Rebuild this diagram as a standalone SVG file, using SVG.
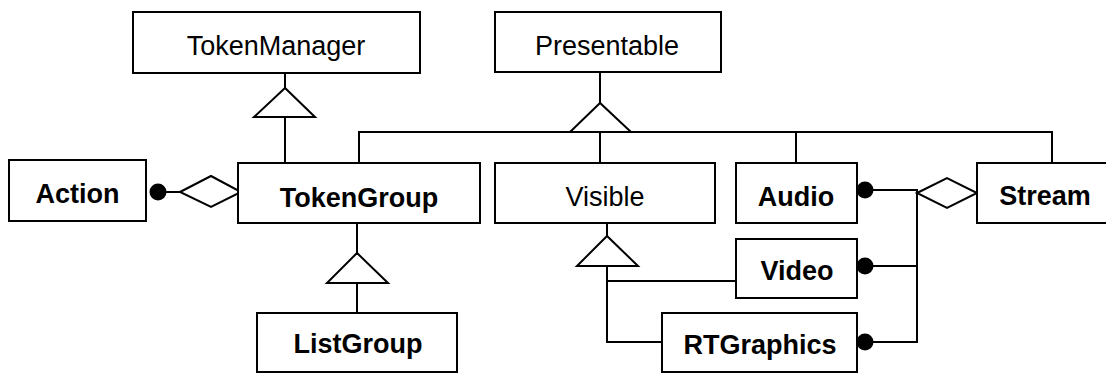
<svg xmlns="http://www.w3.org/2000/svg" width="1106" height="374" viewBox="0 0 1106 374">
<style>
.box{fill:#fff;stroke:#000;stroke-width:2}
.t{font-family:"Liberation Sans",Arial,Helvetica,sans-serif;font-size:27px;text-anchor:middle;fill:#000}
.b{font-weight:bold}
.ln{fill:none;stroke:#000;stroke-width:2}
.tri{fill:#fff;stroke:#000;stroke-width:2;stroke-linejoin:miter}
.dot{fill:#000}
</style>
<rect width="1106" height="374" fill="#fff"/>
<g id="connectors">
<line class="ln" x1="285" y1="73" x2="285" y2="163"/>
<polygon class="tri" points="285,88 254,117 315,117"/>
<line class="ln" x1="285" y1="117" x2="285" y2="163"/>
<line class="ln" x1="600" y1="72" x2="600" y2="103"/>
<polyline class="ln" points="359,163 359,132 1052,132 1052,163"/>
<line class="ln" x1="600" y1="132" x2="600" y2="163"/>
<line class="ln" x1="796" y1="132" x2="796" y2="163"/>
<polygon class="tri" points="600,103 570,132 631,132"/>
<line class="ln" x1="357" y1="223" x2="357" y2="253"/>
<polygon class="tri" points="357,253 327,283 388,283"/>
<line class="ln" x1="357" y1="283" x2="357" y2="313"/>
<line class="ln" x1="607" y1="223" x2="607" y2="236"/>
<polygon class="tri" points="607,236 577,266 638,266"/>
<polyline class="ln" points="607,266 607,342 662,342"/>
<line class="ln" x1="607" y1="281" x2="736" y2="281"/>
<circle class="dot" cx="158" cy="192" r="8.5"/>
<line class="ln" x1="158" y1="192" x2="180" y2="192"/>
<polygon class="tri" points="180,192 211,176 241,192 211,207"/>
<circle class="dot" cx="865" cy="190" r="8.5"/>
<circle class="dot" cx="865" cy="266" r="8.5"/>
<circle class="dot" cx="865" cy="342" r="8.5"/>
<polyline class="ln" points="865,190 917,190 917,342 865,342"/>
<line class="ln" x1="865" y1="266" x2="917" y2="266"/>
<polygon class="tri" points="917,193 947,178 977,193 947,208"/>
</g>
<g id="TokenManager"><rect class="box" x="133" y="12" width="287" height="61"/><text class="t" x="276" y="55">TokenManager</text></g>
<g id="Presentable"><rect class="box" x="495" y="12" width="226" height="60"/><text class="t" x="607" y="55">Presentable</text></g>
<g id="Action"><rect class="box" x="9" y="160" width="137" height="61"/><text class="t b" x="77.5" y="203">Action</text></g>
<g id="TokenGroup"><rect class="box" x="238" y="163" width="242" height="60"/><text class="t b" x="359" y="207">TokenGroup</text></g>
<g id="Visible"><rect class="box" x="495" y="163" width="220" height="60"/><text class="t" x="605" y="206">Visible</text></g>
<g id="Audio"><rect class="box" x="736" y="163" width="121" height="60"/><text class="t b" x="796" y="206">Audio</text></g>
<g id="Stream"><rect class="box" x="977" y="163" width="137" height="60"/><text class="t b" x="1045" y="205">Stream</text></g>
<g id="Video"><rect class="box" x="736" y="239" width="121" height="59"/><text class="t b" x="797" y="280">Video</text></g>
<g id="ListGroup"><rect class="box" x="257" y="313" width="200" height="59"/><text class="t b" x="358" y="353">ListGroup</text></g>
<g id="RTGraphics"><rect class="box" x="662" y="313" width="195" height="59"/><text class="t b" x="760" y="354">RTGraphics</text></g>
</svg>
